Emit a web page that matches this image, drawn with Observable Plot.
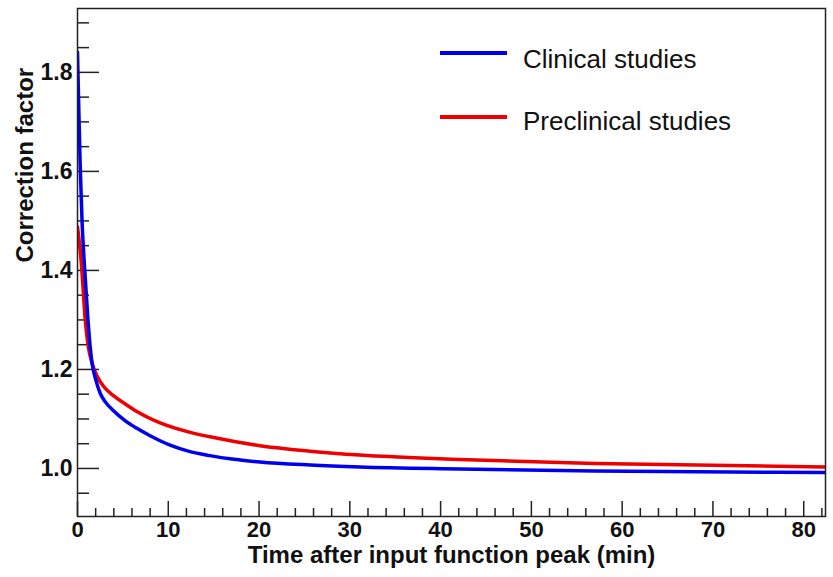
<!DOCTYPE html>
<html>
<head>
<meta charset="utf-8">
<script src="https://cdn.jsdelivr.net/npm/d3@7"></script>
<script src="https://cdn.jsdelivr.net/npm/@observablehq/plot@0.6"></script>
<style>
  body { margin: 0; background: #fff; }
  #chart { position: relative; width: 833px; height: 577px; font-family: "Liberation Sans", Arial, sans-serif; }
  #chart svg { display: block; }
  .legend-item { position: absolute; left: 440px; height: 30px; }
  .legend-item .swatch { position: absolute; left: 0; width: 67px; height: 4px; }
  .legend-item .label { position: absolute; left: 83px; top: 0; font-size: 26px; line-height: 30px; color: #111; white-space: nowrap; }
</style>
</head>
<body>
<div id="chart"></div>
<script>
// Correction factor vs. time after the input function peak (minutes)
const clinicalTime  = [0, 0.15, 0.3, 0.5, 0.8, 1.15, 1.6, 2.0, 2.5, 3.0, 4.0, 5.2, 6.54, 8.0, 9.1, 10.2, 12.4, 14.6, 17, 20.1, 25.6, 31.1, 42.1, 57, 82.4];
const clinicalValue = [1.841, 1.72, 1.61, 1.50, 1.40, 1.30, 1.213, 1.180, 1.152, 1.136, 1.116, 1.097, 1.081, 1.066, 1.056, 1.047, 1.034, 1.026, 1.019, 1.013, 1.007, 1.003, 0.999, 0.995, 0.992];

const preclinicalTime  = [0, 0.3, 0.48, 0.66, 0.85, 1.2, 1.6, 2.2, 2.86, 3.96, 5.2, 6.54, 9.1, 12.4, 14.6, 20.1, 25.6, 31.1, 42.1, 57, 82.4];
const preclinicalValue = [1.488, 1.44, 1.40, 1.35, 1.30, 1.245, 1.213, 1.185, 1.166, 1.147, 1.131, 1.115, 1.092, 1.073, 1.064, 1.046, 1.035, 1.027, 1.018, 1.010, 1.003];

const seriesNames  = ["Clinical studies", "Preclinical studies"];
const seriesColors = ["#0000ee", "#ee0000"];

// Axis ticks
const xTickLabels = [0, 10, 20, 30, 40, 50, 60, 70, 80];
const xMinorTicks = [2, 4, 6, 8, 12, 14, 16, 18, 22, 24, 26, 28, 32, 34, 36, 38, 42, 44, 46, 48,
                     52, 54, 56, 58, 62, 64, 66, 68, 72, 74, 76, 78, 82];
const yTickLabels = [1.0, 1.2, 1.4, 1.6, 1.8];
const yMinorTicks = [0.95, 1.05, 1.1, 1.15, 1.25, 1.3, 1.35, 1.45, 1.5, 1.55, 1.65, 1.7, 1.75, 1.85, 1.9];
const xDomain = [0, 82.4];
const yDomain = [0.903, 1.929];

const xTitle = "Time after input function peak (min)";
const yTitle = "Correction factor";

const clinical = clinicalTime.map((t, i) => ({t, v: clinicalValue[i]}));
const preclinical = preclinicalTime.map((t, i) => ({t, v: preclinicalValue[i]}));

const W = 833, H = 577;
const mL = 77, mR = 8, mT = 8, mB = 61;
const plotW = W - mL - mR, plotH = H - mT - mB;
const axisColor = "#222";
const font = "'Liberation Sans', Arial, sans-serif";

const chart = Plot.plot({
  width: W,
  height: H,
  marginLeft: mL,
  marginRight: mR,
  marginTop: mT,
  marginBottom: mB,
  style: {fontFamily: font, background: "#fff", color: "#111"},
  x: {domain: xDomain},
  y: {domain: yDomain},
  marks: [
    // inward ticks along the left and bottom edges
    Plot.tickY(yTickLabels, {y: d => d, insetRight: plotW - 22, stroke: axisColor, strokeWidth: 1.5}),
    Plot.tickY(yMinorTicks, {y: d => d, insetRight: plotW - 12, stroke: axisColor, strokeWidth: 1.5}),
    Plot.tickX(xTickLabels, {x: d => d, insetTop: plotH - 15, stroke: axisColor, strokeWidth: 1.5}),
    Plot.tickX(xMinorTicks, {x: d => d, insetTop: plotH - 8, stroke: axisColor, strokeWidth: 1.5}),
    Plot.axisY(yTickLabels, {tickSize: 0, tickPadding: 5, tickFormat: d3.format(".1f"), label: null,
      fontSize: 23, fontWeight: "bold", fill: "#111"}),
    Plot.axisX(xTickLabels, {tickSize: 0, tickPadding: 5, tickFormat: d => String(d), label: null,
      fontSize: 22, fontWeight: "bold", fill: "#111"}),
    // curves
    Plot.line(preclinical, {x: "t", y: "v", stroke: seriesColors[1], strokeWidth: 3.5, curve: "monotone-x", clip: true}),
    Plot.line(clinical, {x: "t", y: "v", stroke: seriesColors[0], strokeWidth: 3.5, curve: "monotone-x", clip: true}),
    Plot.frame({stroke: axisColor, strokeWidth: 1.5}),
    // axis titles
    Plot.text([xTitle], {frameAnchor: "bottom", lineAnchor: "middle", dy: 39, text: d => d, fontSize: 24, fontWeight: "bold", fill: "#111"}),
    Plot.text([yTitle], {frameAnchor: "left", lineAnchor: "middle", dx: -52, rotate: -90, text: d => d, fontSize: 24, fontWeight: "bold", fill: "#111"})
  ]
});

const root = document.getElementById("chart");
root.appendChild(chart);

// legend
const legendRows = [
  {swatchTop: 50.5, labelTop: 44},
  {swatchTop: 115.3, labelTop: 106}
];
seriesNames.forEach((name, i) => {
  const item = document.createElement("div");
  item.className = "legend-item";
  item.style.top = "0px";
  const sw = document.createElement("div");
  sw.className = "swatch";
  sw.style.top = legendRows[i].swatchTop + "px";
  sw.style.background = seriesColors[i];
  const lab = document.createElement("div");
  lab.className = "label";
  lab.style.top = legendRows[i].labelTop + "px";
  lab.textContent = name;
  item.appendChild(sw);
  item.appendChild(lab);
  root.appendChild(item);
});
</script>
</body>
</html>
